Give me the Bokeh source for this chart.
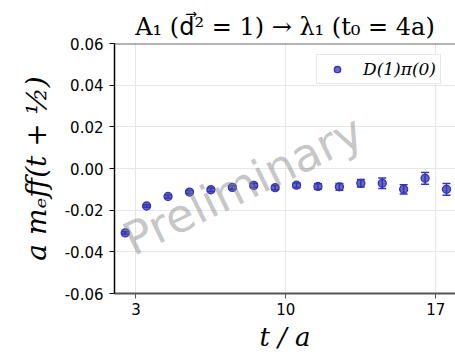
from bokeh.plotting import figure
from bokeh.models import (ColumnDataSource, Range1d, Label, Legend, LegendItem,
                          Whisker, TeeHead, NumeralTickFormatter, Span)
from bokeh.embed import file_html
from bokeh.resources import INLINE

# ---- data ----
t_over_a = [2.5, 3.5, 4.5, 5.5, 6.5, 7.5, 8.5, 9.5, 10.5, 11.5, 12.5, 13.5, 14.5, 15.5, 16.5, 17.5]
m_eff = [-0.0309, -0.0180, -0.0134, -0.0113, -0.0102, -0.0091, -0.0081, -0.0092,
         -0.0080, -0.0086, -0.0088, -0.0071, -0.0071, -0.0100, -0.0047, -0.0100]
m_err = [0.0006, 0.0006, 0.0007, 0.0007, 0.0008, 0.0008, 0.0009, 0.0010,
         0.0011, 0.0013, 0.0016, 0.0018, 0.0025, 0.0022, 0.0028, 0.0028]
x_ticks = [3, 10, 17]
y_ticks = [-0.06, -0.04, -0.02, 0.00, 0.02, 0.04, 0.06]
series_label = "D(1)π(0)"
title_text = "A₁ (d⃗² = 1) → λ₁ (t₀ = 4a)"
x_label = "t / a"
y_label = "a mₑff(t + ½)"

BLUE = "#3434b4"

src = ColumnDataSource(dict(
    t=t_over_a, m=m_eff,
    lo=[v - e for v, e in zip(m_eff, m_err)],
    hi=[v + e for v, e in zip(m_eff, m_err)],
))

p = figure(width=455, height=355,
           x_range=Range1d(2.0, 17.92), y_range=Range1d(-0.06, 0.06),
           output_backend="svg", toolbar_location=None,
           min_border_left=114, min_border_right=0,
           min_border_top=43, min_border_bottom=62)

p.outline_line_color = None
p.background_fill_color = "white"
p.border_fill_color = "white"

# title
p.title.text = title_text
p.title.text_font = "'DejaVu Serif', 'DejaVu Sans', 'Noto Sans'"
p.title.text_font_size = "24px"
p.title.text_font_style = "normal"
p.title.text_color = "black"
p.title.align = "center"
p.title.standoff = 6

# axes
p.xaxis.ticker = x_ticks
p.yaxis.ticker = y_ticks
p.yaxis.formatter = NumeralTickFormatter(format="0.00")
for ax in (p.xaxis, p.yaxis):
    ax.major_label_text_font = "DejaVu Sans"
    ax.major_label_text_font_size = "15px"
    ax.major_label_text_color = "black"
    ax.minor_tick_line_color = None
    ax.major_tick_in = 0
    ax.major_tick_out = 5
p.yaxis.axis_line_color = "black"
p.yaxis.axis_line_width = 1.5
p.yaxis.major_tick_line_color = "black"
p.yaxis.major_label_standoff = 6
p.yaxis.axis_label = y_label
p.yaxis.axis_label_text_font = "DejaVu Serif"
p.yaxis.axis_label_text_font_style = "italic"
p.yaxis.axis_label_text_font_size = "28px"
p.yaxis.axis_label_text_color = "black"
p.yaxis.axis_label_standoff = 9
p.xaxis.axis_line_color = "#555555"
p.xaxis.axis_line_width = 2
p.xaxis.major_tick_line_color = "#555555"
p.xaxis.major_label_standoff = 4
p.xaxis.axis_label = x_label
p.xaxis.axis_label_text_font = "DejaVu Serif"
p.xaxis.axis_label_text_font_style = "italic"
p.xaxis.axis_label_text_font_size = "26px"
p.xaxis.axis_label_text_color = "black"
p.xaxis.axis_label_standoff = 4

# top spine
p.add_layout(Span(location=0.06, dimension="width", line_color="#666666", line_width=2))

# grid
p.xgrid.grid_line_color = "#e6e6e6"
p.ygrid.grid_line_color = "#e6e6e6"

# watermark
wm = Label(x=8.0, y=-0.0080, text="Preliminary", angle=26, angle_units="deg",
           text_align="center", text_baseline="middle", text_font="DejaVu Sans",
           text_font_size="46px", text_color="#808080", text_alpha=0.45)
p.add_layout(wm)

# error bars + points
wh = Whisker(source=src, base="t", lower="lo", upper="hi", dimension="height",
             line_color=BLUE, line_width=1.5,
             lower_head=TeeHead(size=8, line_color=BLUE, line_width=1.5),
             upper_head=TeeHead(size=8, line_color=BLUE, line_width=1.5))
p.add_layout(wh)
r = p.scatter("t", "m", source=src, marker="circle", size=8,
              fill_color=BLUE, fill_alpha=0.75, line_color=BLUE, line_width=1.3)

legend = Legend(items=[LegendItem(label=series_label, renderers=[r])],
                location=(202, 209), padding=4, spacing=0, margin=0,
                glyph_width=32, glyph_height=16, label_standoff=10,
                label_text_font="DejaVu Serif", label_text_font_style="italic",
                label_text_font_size="17px", label_text_color="black",
                border_line_color="#d0d0d0", border_line_width=1,
                background_fill_alpha=0.9)
p.add_layout(legend)

open("out.html", "w").write(file_html(p, INLINE))
